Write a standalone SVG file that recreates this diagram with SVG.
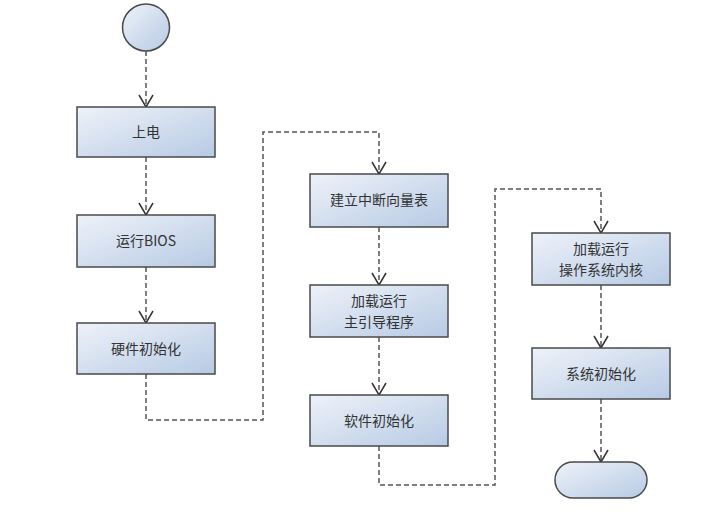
<svg xmlns="http://www.w3.org/2000/svg" width="727" height="517" viewBox="0 0 727 517">
<defs>
<linearGradient id="g" x1="0" y1="0" x2="1" y2="1">
<stop offset="0" stop-color="#eef2f9"/>
<stop offset="1" stop-color="#b7cae4"/>
</linearGradient>
<marker id="ah" viewBox="0 0 16 14" refX="8" refY="13" markerWidth="16" markerHeight="14" markerUnits="userSpaceOnUse" orient="auto-start-reverse">
<path d="M1,1 L8,13 L15,1" fill="none" stroke="#333" stroke-width="1.5"/>
</marker>
<marker id="av" viewBox="0 0 16 14" refX="8" refY="13" markerWidth="16" markerHeight="14" markerUnits="userSpaceOnUse" orient="0">
<path d="M1,1 L8,13 L15,1" fill="none" stroke="#333" stroke-width="1.5"/>
</marker>
</defs>
<style>
.n{fill:url(#g);stroke:#4a4a4a;stroke-width:1.5}
.t{font-family:"Noto Sans CJK SC","Liberation Sans",sans-serif;font-size:14px;fill:#333;text-anchor:middle}
.c{fill:none;stroke:#555;stroke-width:1.5;stroke-dasharray:5,3}
</style>
<rect width="727" height="517" fill="#fff"/>
<g id="connectors">
<path class="c" d="M146,51 V107" marker-end="url(#av)"/>
<path class="c" d="M146,157 V215" marker-end="url(#av)"/>
<path class="c" d="M146,267 V323" marker-end="url(#av)"/>
<path class="c" d="M146,374 V420 H263 V132 H379 V174" marker-end="url(#av)"/>
<path class="c" d="M379,227 V285" marker-end="url(#av)"/>
<path class="c" d="M379,337 V395" marker-end="url(#av)"/>
<path class="c" d="M379,446 V485 H495 V189 H601 V233" marker-end="url(#av)"/>
<path class="c" d="M601,285 V348" marker-end="url(#av)"/>
<path class="c" d="M601,399 V462" marker-end="url(#av)"/>
</g>
<g id="start"><circle class="n" cx="146" cy="27.5" r="23.5"/></g>
<g id="n1"><rect class="n" x="77" y="107" width="138" height="50"/><text class="t" x="146" y="137">上电</text></g>
<g id="n2"><rect class="n" x="77" y="215" width="138" height="52"/><text class="t" x="146" y="246">运行BIOS</text></g>
<g id="n3"><rect class="n" x="77" y="323" width="138" height="51"/><text class="t" x="146" y="354">硬件初始化</text></g>
<g id="n4"><rect class="n" x="310" y="174" width="138" height="53"/><text class="t" x="379" y="205">建立中断向量表</text></g>
<g id="n5"><rect class="n" x="310" y="285" width="138" height="52"/><text class="t" x="379" y="306">加载运行</text><text class="t" x="379" y="327">主引导程序</text></g>
<g id="n6"><rect class="n" x="310" y="395" width="138" height="51"/><text class="t" x="379" y="426">软件初始化</text></g>
<g id="n7"><rect class="n" x="532" y="233" width="138" height="52"/><text class="t" x="601" y="254">加载运行</text><text class="t" x="601" y="275">操作系统内核</text></g>
<g id="n8"><rect class="n" x="532" y="348" width="138" height="51"/><text class="t" x="601" y="379">系统初始化</text></g>
<g id="end"><rect class="n" x="555" y="462" width="92" height="36" rx="18" ry="18"/></g>
</svg>
